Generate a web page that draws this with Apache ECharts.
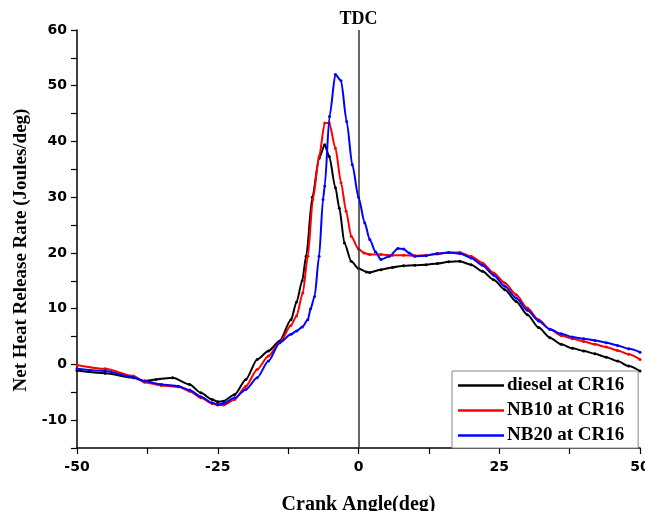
<!DOCTYPE html>
<html>
<head>
<meta charset="utf-8">
<title>Net Heat Release Rate</title>
<script src="https://cdn.jsdelivr.net/npm/echarts@6/dist/echarts.min.js"></script>
<style>
    html,body{margin:0;padding:0;background:#fff;}
    #chart{width:645px;height:511px;}
</style>
</head>
<body>
<div id="chart"></div>
<script>
    // crank angle (deg) and heat release rate (J/deg)
    var angleDiesel = [-50,-45,-40,-38,-36,-33,-30,-28,-26,-25,-24,-22,-20,-18,-16,-14,-12,-11,-10,-9.3,-8.2,-7,-6,-5.2,-4.1,-3.4,-2.5,-1.3,0,1.4,2,4,6,8,10,12,14,16,18,20,22,24,26,28,30,32,34,36,38,40,42,44,46,48,50];
    var rateDiesel  = [-1.1,-1.6,-2.4,-3.0,-2.7,-2.4,-3.6,-5.1,-6.3,-6.7,-6.6,-5.4,-2.7,0.9,2.4,4.2,8.0,11.2,15.0,19.4,30.0,37.0,39.4,37.3,31.7,28.0,21.8,18.5,17.2,16.6,16.5,17.0,17.4,17.7,17.8,17.9,18.1,18.4,18.5,17.9,16.7,15.2,13.4,11.3,8.9,6.6,4.8,3.6,2.9,2.4,1.9,1.3,0.6,-0.3,-1.2];

    var angleNB10 = [-50,-45,-40,-38,-35,-32,-30,-28,-26,-25,-24,-22,-20,-18,-16,-14,-12,-11,-9.9,-9,-8.1,-7,-6,-5.2,-4.1,-3.1,-2.2,-1.3,0,1,2,4,6,8,10,12,14,16,18,20,22,24,26,28,30,32,34,36,38,40,42,44,46,48,50];
    var rateNB10  = [-0.1,-0.8,-2.1,-3.2,-3.8,-4.0,-4.8,-6.0,-7.0,-7.3,-7.3,-6.3,-3.9,-0.9,1.5,3.9,7.0,8.7,12.8,19.4,29.6,37.3,43.3,43.3,38.8,32.6,27.5,23.0,20.7,20.0,19.7,19.7,19.6,19.6,19.5,19.6,19.8,20.1,20.1,19.4,18.2,16.4,14.6,12.5,10.1,8.0,6.3,5.2,4.6,4.1,3.6,3.1,2.5,1.8,0.9];

    var angleNB20 = [-50,-45,-40,-38,-35,-32,-30,-28,-26,-25,-24,-22,-20,-18,-16,-14,-12,-11,-10,-9,-8.5,-7.8,-7,-6.3,-6,-5.15,-4.1,-3.1,-2.1,-1.1,0,1.1,2,3,4,5.5,7,8,9,10,12,14,16,18,20,22,24,26,28,30,32,34,36,38,40,42,44,46,48,50];
    var rateNB20  = [-0.8,-1.2,-2.3,-3.0,-3.6,-3.9,-4.6,-5.8,-6.9,-7.2,-7.0,-6.0,-4.5,-2.4,0.6,3.9,5.4,6.0,6.7,8.0,10.0,12.2,19.4,29.6,32.0,44.5,52.0,50.9,43.6,35.8,30.0,25.4,22.4,20.2,18.8,19.4,20.8,20.7,20.0,19.4,19.5,19.9,20.1,19.9,19.1,17.8,16.0,14.0,11.9,9.7,7.8,6.3,5.5,4.9,4.6,4.3,3.9,3.4,2.8,2.2];

    var seriesNames  = ['diesel at CR16','NB10 at CR16','NB20 at CR16'];
    var seriesColors = ['#000000','#ff0000','#0000ff'];
    var xTickLabels  = [-50,-25,0,25,50];
    var yTickLabels  = [-10,0,10,20,30,40,50,60];

    function pairs(xs, ys){
        var out = [];
        for(var i=0;i<xs.length;i++){
            out.push([xs[i], ys[i]]);
        }
        return out;
    }

    var serifFont = '"Liberation Serif","Times New Roman",serif';
    var tickFont  = '"DejaVu Sans",sans-serif';

    function makeSeries(idx, data){
        return {
            name: seriesNames[idx],
            type: 'line',
            data: data,
            smooth: 0.25,
            smoothMonotone: 'x',
            symbol: 'circle',
            symbolSize: 3,
            showSymbol: true,
            itemStyle: {color: seriesColors[idx]},
            lineStyle: {color: seriesColors[idx], width: 2},
            z: 3 + idx
        };
    }

    var series = [
        makeSeries(0, pairs(angleDiesel, rateDiesel)),
        makeSeries(1, pairs(angleNB10, rateNB10)),
        makeSeries(2, pairs(angleNB20, rateNB20))
    ];
    // TDC marker at 0 deg
    series[0].markLine = {
        silent: true,
        symbol: ['none','none'],
        animation: false,
        lineStyle: {color: '#333', width: 1.5, type: 'solid'},
        label: {
            show: true,
            position: 'end',
            formatter: 'TDC',
            color: '#000',
            fontFamily: serifFont,
            fontWeight: 'bold',
            fontSize: 18,
            distance: 2
        },
        data: [{xAxis: 0}]
    };

    var option = {
        animation: false,
        backgroundColor: '#fff',
        grid: {left: 77, right: 5, top: 30, bottom: 63, outerBoundsMode: 'none', containLabel: false},
        legend: {
            orient: 'vertical',
            left: 452,
            top: 371,
            padding: [5, 14, 3, 6],
            itemGap: 6,
            itemWidth: 46,
            itemHeight: 2.5,
            icon: 'rect',
            backgroundColor: '#fff',
            borderColor: '#888',
            borderWidth: 1,
            borderRadius: 0,
            data: seriesNames,
            textStyle: {
                color: '#000',
                fontFamily: serifFont,
                fontWeight: 'bold',
                fontSize: 19,
                lineHeight: 19,
                padding: [0, 0, 0, -2]
            }
        },
        xAxis: {
            type: 'value',
            min: -50,
            max: 50,
            interval: 12.5,
            name: 'Crank Angle(deg)',
            nameLocation: 'middle',
            nameGap: 47,
            nameTextStyle: {
                color: '#000',
                fontFamily: serifFont,
                fontWeight: 'bold',
                fontSize: 20
            },
            axisLine: {onZero: false, lineStyle: {color: '#000', width: 1.5}},
            axisTick: {length: 6, lineStyle: {color: '#000', width: 1.2}},
            axisLabel: {
                margin: 12,
                color: '#000',
                fontFamily: tickFont,
                fontWeight: 'bold',
                fontSize: 14,
                formatter: function(v){
                    return xTickLabels.indexOf(v) >= 0 ? String(v) : '';
                }
            },
            splitLine: {show: false}
        },
        yAxis: {
            type: 'value',
            min: -15,
            max: 60,
            interval: 5,
            name: 'Net Heat Release Rate (Joules/deg)',
            nameLocation: 'middle',
            nameGap: 45,
            nameTextStyle: {
                color: '#000',
                fontFamily: serifFont,
                fontWeight: 'bold',
                fontSize: 19,
                padding: [0, 22, 0, 0]
            },
            axisLine: {show: true, onZero: false, lineStyle: {color: '#000', width: 1.5}},
            axisTick: {show: true, length: 6, lineStyle: {color: '#000', width: 1.2}},
            axisLabel: {
                margin: 10,
                color: '#000',
                fontFamily: tickFont,
                fontWeight: 'bold',
                fontSize: 14,
                formatter: function(v){
                    return yTickLabels.indexOf(v) >= 0 ? String(v) : '';
                }
            },
            splitLine: {show: false}
        },
        series: series
    };

    var chart = echarts.init(document.getElementById('chart'), null, {renderer: 'canvas'});
    chart.setOption(option);
</script>
</body>
</html>
